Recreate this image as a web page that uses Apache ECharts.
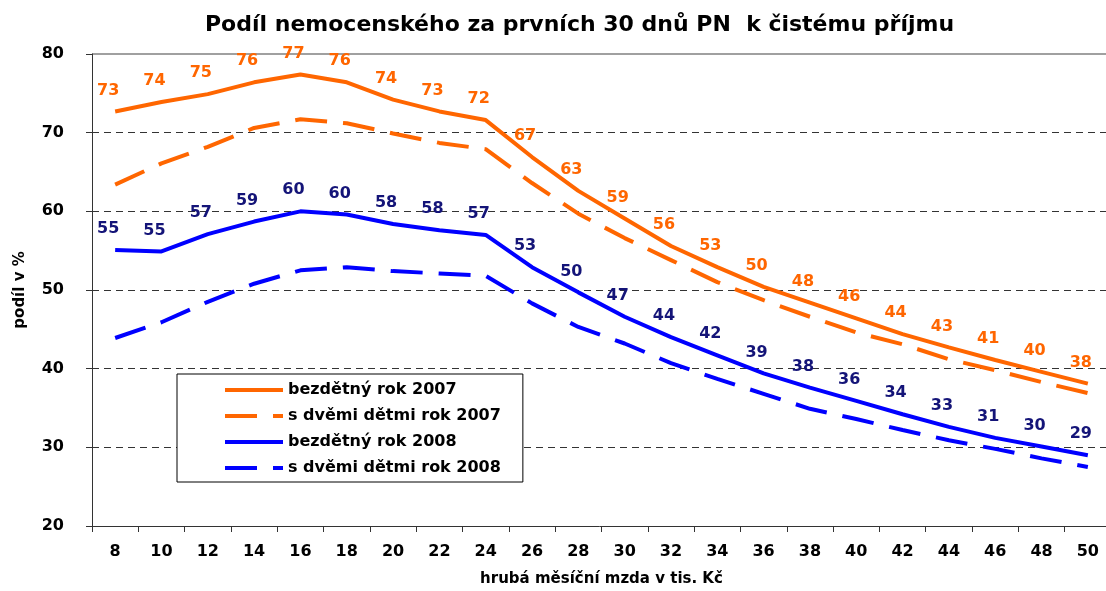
<!DOCTYPE html>
<html>
<head>
<meta charset="utf-8">
<script src="https://cdn.jsdelivr.net/npm/echarts@6/dist/echarts.min.js"></script>
<style>
  html, body { margin: 0; padding: 0; background: #fff; }
  #chart { width: 1106px; height: 591px; }
</style>
</head>
<body>
<div id="chart"></div>
<script>
// Gross monthly wage in thousands CZK
const wages = ['8','10','12','14','16','18','20','22','24','26','28','30','32','34','36','38','40','42','44','46','48','50'];

// Sickness benefit for the first 30 days as a share of net income (%)
const childless2007 = [72.7, 73.9, 74.9, 76.4, 77.4, 76.4, 74.2, 72.7, 71.6, 66.9, 62.6, 59.1, 55.6, 52.9, 50.4, 48.4, 46.4, 44.4, 42.7, 41.1, 39.6, 38.1];
const twoChildren2007 = [63.4, 66.1, 68.2, 70.6, 71.7, 71.2, 69.9, 68.7, 67.9, 63.6, 59.7, 56.6, 53.8, 51.0, 48.7, 46.6, 44.6, 43.1, 41.2, 39.8, 38.3, 36.9];
const childless2008 = [55.1, 54.9, 57.1, 58.7, 60.0, 59.6, 58.4, 57.6, 57.0, 52.9, 49.7, 46.6, 44.0, 41.7, 39.4, 37.6, 35.9, 34.2, 32.6, 31.2, 30.1, 29.0];
const twoChildren2008 = [43.9, 45.9, 48.5, 50.8, 52.5, 52.9, 52.4, 52.1, 51.8, 48.3, 45.3, 43.2, 40.7, 38.7, 36.8, 34.9, 33.6, 32.2, 30.9, 29.8, 28.6, 27.5];

const seriesNames = ['bezdětný rok 2007', 's dvěmi dětmi rok 2007', 'bezdětný rok 2008', 's dvěmi dětmi rok 2008'];

const ORANGE = '#FF6600';
const BLUE = '#0000FF';
const NAVY = '#141478';
const FONT = '"DejaVu Sans", sans-serif';

function valueLabel(color) {
  return {
    show: true,
    position: 'top',
    distance: 13,
    offset: [-7, 0],
    color: color,
    fontFamily: FONT,
    fontWeight: 'bold',
    fontSize: 16,
    formatter: p => Math.round(p.value)
  };
}

function lineSeries(name, data, color, dashed, labelColor) {
  const s = {
    name: name,
    type: 'line',
    data: data,
    showSymbol: true,
    symbol: 'circle',
    symbolSize: 0,
    lineStyle: { color: color, width: 4, type: dashed ? [32, 16] : 'solid' },
    itemStyle: { color: color },
    emphasis: { disabled: true },
    z: dashed ? 3 : 4
  };
  if (labelColor) s.label = valueLabel(labelColor);
  return s;
}

const chart = echarts.init(document.getElementById('chart'), null, { renderer: 'canvas' });

chart.setOption({
  backgroundColor: '#fff',
  animation: false,
  title: {
    text: 'Podíl nemocenského za prvních 30 dnů PN  k čistému příjmu',
    left: 200,
    top: 9,
    textStyle: { fontFamily: FONT, fontWeight: 'bold', fontSize: 22, color: '#000' }
  },
  legend: {
    orient: 'vertical',
    left: 177,
    top: 374,
    padding: [8, 22, 6, 46],
    itemWidth: 58,
    itemHeight: 14,
    itemGap: 10,
    backgroundColor: '#fff',
    borderColor: '#000',
    borderWidth: 1,
    z: 10,
    itemStyle: { opacity: 0 },
    lineStyle: { width: 4 },
    textStyle: { fontFamily: FONT, fontWeight: 'bold', fontSize: 16, color: '#000', lineHeight: 16 },
    data: seriesNames
  },
  grid: {
    left: 92,
    right: -5,
    top: 54,
    bottom: 65,
    outerBoundsMode: 'none',
    containLabel: false
  },
  xAxis: {
    type: 'category',
    data: wages,
    boundaryGap: true,
    name: 'hrubá měsíční mzda v tis. Kč',
    nameLocation: 'middle',
    nameGap: 46,
    nameTextStyle: { fontFamily: FONT, fontWeight: 'bold', fontSize: 15, color: '#000' },
    axisLine: { lineStyle: { color: '#333', width: 1 } },
    axisTick: { show: true, alignWithLabel: false, length: 6, lineStyle: { color: '#333' } },
    axisLabel: { margin: 18, fontFamily: FONT, fontWeight: 'bold', fontSize: 16, color: '#000' },
    splitLine: { show: false }
  },
  yAxis: {
    type: 'value',
    min: 20,
    max: 80,
    interval: 10,
    name: 'podíl v %',
    nameLocation: 'middle',
    nameRotate: 90,
    nameGap: 64,
    nameTextStyle: { fontFamily: FONT, fontWeight: 'bold', fontSize: 15, color: '#000' },
    axisLine: { show: true, lineStyle: { color: '#333', width: 1 } },
    axisTick: { show: true, length: 6, lineStyle: { color: '#333' } },
    axisLabel: { margin: 28, fontFamily: FONT, fontWeight: 'bold', fontSize: 16, color: '#000' },
    splitLine: {
      show: true,
      showMinLine: false,
      showMaxLine: false,
      lineStyle: { color: '#333', width: 1, type: [7, 5] }
    }
  },
  series: [
    lineSeries(seriesNames[0], childless2007, ORANGE, false, ORANGE),
    lineSeries(seriesNames[1], twoChildren2007, ORANGE, true, null),
    lineSeries(seriesNames[2], childless2008, BLUE, false, NAVY),
    lineSeries(seriesNames[3], twoChildren2008, BLUE, true, null)
  ],
  graphic: [
    {
      // solid top border of the plot area
      type: 'line',
      shape: { x1: 92, y1: 54, x2: 1106, y2: 54 },
      style: { stroke: '#808080', lineWidth: 1.5 },
      silent: true
    }
  ]
});
</script>
</body>
</html>
